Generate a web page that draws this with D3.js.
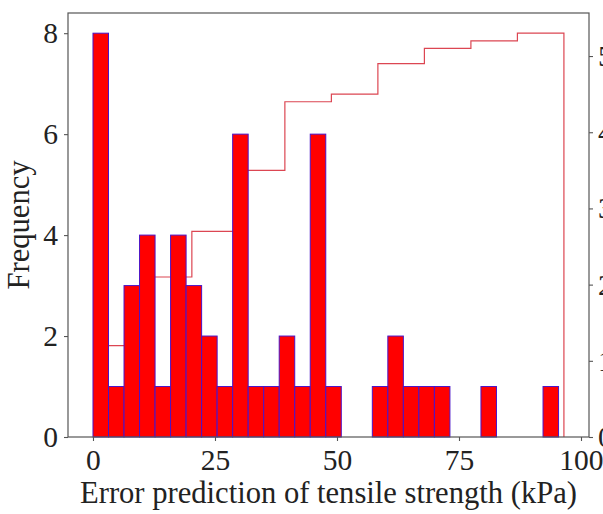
<!DOCTYPE html>
<html>
<head>
<meta charset="utf-8">
<script src="https://cdn.jsdelivr.net/npm/d3@7"></script>
<style>
  html, body { margin: 0; padding: 0; background: #fff; }
  svg { display: block; }
  svg text { font-family: 'Liberation Serif', 'Times New Roman', Times, serif !important; }
</style>
</head>
<body>
<script>
// ---- data ----
const counts = [8, 1, 3, 4, 1, 4, 3, 2, 1, 6, 1, 1, 2, 1, 6, 1, 0, 0, 1, 2, 1, 1, 1, 0, 0, 1, 0, 0, 0, 1];
const barRange = [0, 95.4];           // histogram range (kPa)
const cumCounts = [12, 21, 27, 35, 44, 45, 49, 51, 52, 53];
const cumRange = [1.2, 96.5];         // cumulative step histogram range (kPa)
const xTicks = [0, 25, 50, 75, 100];
const yTicks = [0, 2, 4, 6, 8];
const y2Ticks = [0, 10, 20, 30, 40, 50];
const xLabel = "Error prediction of tensile strength (kPa)";
const yLabel = "Frequency";

(function () {
const W = 603, H = 514;
const mLeft = 68, mRight = 589, mTop = 13, mBottom = 437;
const font = "Liberation Serif";

const svg = d3.select("body").append("svg").attr("width", W).attr("height", H);

const x = d3.scaleLinear().domain([-5.12, 101.64]).range([mLeft, mRight]);
const y = d3.scaleLinear().domain([0, 8.4]).range([mBottom, mTop]);
const y2 = d3.scaleLinear().domain([0, 55.65]).range([mBottom, mTop]);

// bin edges
const nb = counts.length;
const bw = (barRange[1] - barRange[0]) / nb;
const bins = counts.map((c, i) => ({ x0: barRange[0] + i * bw, x1: barRange[0] + (i + 1) * bw, c }));

const nc = cumCounts.length;
const cw = (cumRange[1] - cumRange[0]) / nc;
const stepPts = [[cumRange[0], 0]];
cumCounts.forEach((c, i) => {
  const e0 = cumRange[0] + i * cw, e1 = cumRange[0] + (i + 1) * cw;
  stepPts.push([e0, c]);
  stepPts.push([e1, c]);
});
stepPts.push([cumRange[1], 0]);

// cumulative step line (behind bars)
svg.append("path")
  .datum(stepPts)
  .attr("fill", "none")
  .attr("stroke", "#dc4652")
  .attr("stroke-width", 1.2)
  .attr("d", d3.line().x(d => x(d[0])).y(d => y2(d[1])));

// bars
svg.append("g").selectAll("rect")
  .data(bins.filter(b => b.c > 0))
  .join("rect")
  .attr("x", d => x(d.x0))
  .attr("width", d => x(d.x1) - x(d.x0))
  .attr("y", d => y(d.c))
  .attr("height", d => y(0) - y(d.c))
  .attr("fill", "#ff0000")
  .attr("stroke", "#4a14c8")
  .attr("stroke-width", 1);

// frame
const spine = "#555";
svg.append("rect")
  .attr("x", mLeft).attr("y", mTop)
  .attr("width", mRight - mLeft).attr("height", mBottom - mTop)
  .attr("fill", "none").attr("stroke", spine).attr("stroke-width", 1.2);

// axes
function styleAxis(g) {
  g.attr("font-family", font).attr("font-size", 29.5);
  g.select(".domain").remove();
  g.selectAll(".tick line").attr("stroke", spine).attr("stroke-width", 1.1);
  g.selectAll(".tick text").attr("fill", "#222");
}

svg.append("g")
  .attr("transform", `translate(0,${mBottom})`)
  .call(d3.axisBottom(x).tickValues(xTicks).tickSize(4).tickPadding(8).tickFormat(d3.format("d")))
  .call(styleAxis);

svg.append("g")
  .attr("transform", `translate(${mLeft},0)`)
  .call(d3.axisLeft(y).tickValues(yTicks).tickSize(4).tickPadding(6).tickFormat(d3.format("d")))
  .call(styleAxis);

svg.append("g")
  .attr("transform", `translate(${mRight},0)`)
  .call(d3.axisRight(y2).tickValues(y2Ticks).tickSize(4).tickPadding(5).tickFormat(d3.format("d")))
  .call(styleAxis);

// labels
svg.append("text")
  .attr("x", (mLeft + mRight) / 2).attr("y", 503)
  .attr("text-anchor", "middle")
  .attr("font-family", font).attr("font-size", 30.6).attr("fill", "#222")
  .text(xLabel);

svg.append("text")
  .attr("transform", `translate(29,${(mTop + mBottom) / 2}) rotate(-90)`)
  .attr("text-anchor", "middle")
  .attr("font-family", font).attr("font-size", 30.6).attr("fill", "#222")
  .text(yLabel);
})();
</script>
</body>
</html>
